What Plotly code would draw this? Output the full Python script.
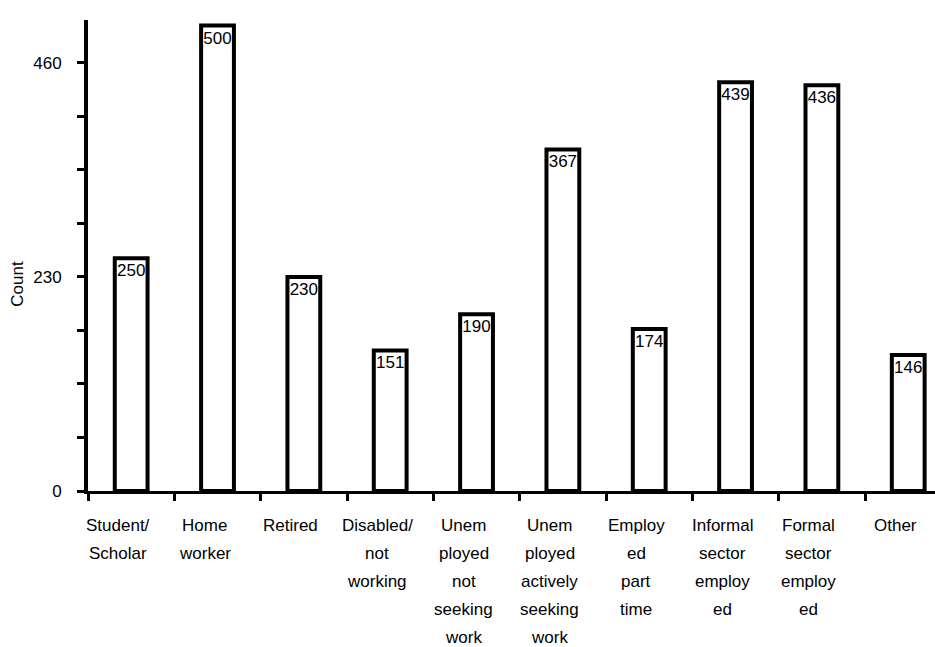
import plotly.graph_objects as go

# Employment status categories and their counts
categories = [
    "Student/ Scholar", "Home worker", "Retired", "Disabled/ not working",
    "Unemployed not seeking work", "Unemployed actively seeking work",
    "Employed part time", "Informal sector employed", "Formal sector employed", "Other",
]
label_lines = [
    ["Student/", "Scholar"], ["Home", "worker"], ["Retired"], ["Disabled/", "not", "working"],
    ["Unem", "ployed", "not", "seeking", "work"], ["Unem", "ployed", "actively", "seeking", "work"],
    ["Employ", "ed", "part", "time"], ["Informal", "sector", "employ", "ed"],
    ["Formal", "sector", "employ", "ed"], ["Other"],
]
counts = [250, 500, 230, 151, 190, 367, 174, 439, 436, 146]

y_tick_values = [0, 57.5, 115, 172.5, 230, 287.5, 345, 402.5, 460]
y_tick_labels = ["0", "", "", "", "230", "", "", "", "460"]

FONT = "Liberation Sans, Arial, sans-serif"

fig = go.Figure()
fig.add_bar(
    x=categories,
    y=counts,
    width=0.38,
    marker=dict(color="white", line=dict(color="black", width=4)),
    text=[str(v) for v in counts],
    textposition="inside",
    insidetextanchor="end",
    textangle=0,
    textfont=dict(size=17, color="black", family=FONT),
    hoverinfo="x+y",
)

# Wrapped category labels, one line at a time for wide line spacing
annotations = []
for cat, lines in zip(categories, label_lines):
    for j, line in enumerate(lines):
        annotations.append(dict(
            x=cat, xref="x", y=0, yref="paper",
            xanchor="center", yanchor="middle",
            xshift=-13, yshift=-(34 + 28 * j),
            text=line, showarrow=False,
            font=dict(size=17, color="black", family=FONT),
        ))

annotations.append(dict(
    x=0, xref="paper", xshift=-70, y=0.44, yref="paper",
    xanchor="center", yanchor="middle", textangle=-90,
    text="Count", showarrow=False,
    font=dict(size=17, color="black", family=FONT),
))

fig.update_layout(
    width=935, height=647,
    margin=dict(l=88, r=0, t=20, b=156),
    paper_bgcolor="white", plot_bgcolor="white",
    showlegend=False,
    font=dict(family=FONT, size=17, color="black"),
    uniformtext=dict(minsize=17, mode="show"),
    annotations=annotations,
    xaxis=dict(
        type="category", range=[-0.5, 9.31],
        showline=True, linecolor="black", linewidth=3,
        ticks="outside", tickson="boundaries", ticklen=7, tickwidth=3, tickcolor="black",
        showticklabels=False, showgrid=False, zeroline=False,
    ),
    yaxis=dict(
        range=[0, 506],
        tickmode="array", tickvals=y_tick_values, ticktext=y_tick_labels,
        showline=True, linecolor="black", linewidth=4,
        ticks="outside", ticklen=7, tickwidth=3, tickcolor="black",
        tickfont=dict(size=17, color="black", family=FONT),
        ticklabelstandoff=12,
        showgrid=False, zeroline=False,
    ),
)

fig.write_html("out.html")
